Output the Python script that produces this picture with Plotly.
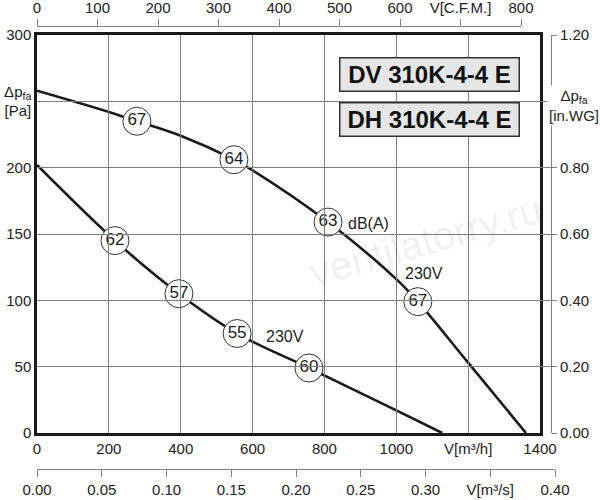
import plotly.graph_objects as go

# fan curves, V [m3/h] vs static pressure [Pa]
upper_q = [0, 200, 278, 400, 548, 600, 810, 1000, 1060, 1200, 1361]
upper_p = [258, 242, 235, 224, 206, 198, 159, 116, 99, 53, 0]

lower_q = [0, 217, 395, 557, 757, 1000, 1128]
lower_p = [202, 145, 105, 75, 49, 17, 0]

# noise level circles dB(A)
mark_q = [278, 548, 810, 1060, 217, 395, 557, 757]
mark_p = [235, 206, 159, 99, 145, 105, 75, 49]
mark_db = ["67", "64", "63", "67", "62", "57", "55", "60"]

# axis ticks
m3h_ticks = [0, 200, 400, 600, 800, 1000, 1200, 1400]
m3h_text = ["0", "200", "400", "600", "800", "1000", "V[m³/h]", "1400"]
pa_ticks = [0, 50, 100, 150, 200, 250, 300]
pa_text = ["0", "50", "100", "150", "200", "Δp<sub>fa</sub><br>[Pa]", "300"]
cfm_ticks = [0, 100, 200, 300, 400, 500, 600, 700, 800]
cfm_text = ["0", "100", "200", "300", "400", "500", "600", "V[C.F.M.]", "800"]
m3s_ticks = [0, 0.05, 0.10, 0.15, 0.20, 0.25, 0.30, 0.35, 0.40]
m3s_text = ["0.00", "0.05", "0.10", "0.15", "0.20", "0.25", "0.30", "V[m³/s]", "0.40"]
inwg_ticks = [0, 0.2, 0.4, 0.6, 0.8, 1.0, 1.2]
inwg_text = ["0.00", "0.20", "0.40", "0.60", "0.80", "", "1.20"]

FONT = "Liberation Sans, Arial, sans-serif"
TXT = "#222222"
GRID = "#808080"


# screen pixels -> paper fractions (no margins, body margin removed below)
def px_x(X):
    return X / 600


def px_y(Y):
    return (500 - Y) / 500


fig = go.Figure()

fig.add_trace(go.Scatter(x=upper_q, y=upper_p, mode="lines",
                         line=dict(color="#1a1a1a", width=2.6, shape="spline", smoothing=1),
                         hoverinfo="skip", showlegend=False))
fig.add_trace(go.Scatter(x=lower_q, y=lower_p, mode="lines",
                         line=dict(color="#1a1a1a", width=2.6, shape="spline", smoothing=1),
                         hoverinfo="skip", showlegend=False))
fig.add_trace(go.Scatter(x=mark_q, y=mark_p, mode="markers+text", text=mark_db,
                         textposition="middle center",
                         textfont=dict(family=FONT, size=17, color=TXT),
                         marker=dict(size=28, color="white", line=dict(color="#333333", width=1)),
                         hoverinfo="skip", showlegend=False))

# empty traces so the extra scales get drawn
fig.add_trace(go.Scatter(x=[None], y=[None], xaxis="x2", yaxis="y", showlegend=False))
fig.add_trace(go.Scatter(x=[None], y=[None], xaxis="x3", yaxis="y", showlegend=False))
fig.add_trace(go.Scatter(x=[None], y=[None], xaxis="x", yaxis="y2", showlegend=False))

tickfont = dict(family=FONT, size=15, color=TXT)
xdom = [px_x(37), px_x(540)]
ydom = [px_y(433), px_y(35)]

fig.update_layout(
    width=600, height=500,
    margin=dict(l=0, r=0, t=0, b=0),
    paper_bgcolor="white", plot_bgcolor="rgba(0,0,0,0)",
    font=dict(family=FONT, color=TXT),
    xaxis=dict(domain=xdom, range=[0, 1400],
               tickvals=m3h_ticks, ticktext=m3h_text, tickfont=tickfont,
               ticks="", showgrid=True, gridcolor=GRID, gridwidth=1, zeroline=False,
               showline=True, mirror=True, linecolor="#1a1a1a", linewidth=2.5,
               automargin=False),
    yaxis=dict(domain=ydom, range=[0, 300],
               tickvals=pa_ticks, ticktext=pa_text, tickfont=tickfont,
               ticks="", showgrid=True, gridcolor=GRID, gridwidth=1, zeroline=False,
               showline=True, mirror=True, linecolor="#1a1a1a", linewidth=2.5,
               automargin=False),
    xaxis2=dict(domain=[px_x(37), px_x(521)], range=[0, 800], anchor="free",
                position=px_y(26), side="top",
                tickvals=cfm_ticks, ticktext=cfm_text, tickfont=tickfont,
                ticks="outside", ticklen=7, tickcolor=GRID, showgrid=False, zeroline=False,
                showline=True, linecolor=GRID, linewidth=1, automargin=False),
    xaxis3=dict(domain=[px_x(37), px_x(555)], range=[0, 0.40], anchor="free",
                position=px_y(469), side="bottom",
                tickvals=m3s_ticks, ticktext=m3s_text, tickfont=tickfont,
                ticks="outside", ticklen=7, tickcolor=GRID, showgrid=False, zeroline=False,
                showline=True, linecolor=GRID, linewidth=1, automargin=False),
    yaxis2=dict(domain=ydom, range=[0, 1.2], anchor="free",
                position=px_x(551), side="right",
                tickvals=inwg_ticks, ticktext=inwg_text, tickfont=tickfont,
                ticks="outside", ticklen=5, tickcolor=GRID, showgrid=False, zeroline=False,
                showline=True, linecolor=GRID, linewidth=1, automargin=False),
)

annotations = [
    # watermark
    dict(x=1080, y=145, xref="x", yref="y", text="ventilatorry.ru", showarrow=False,
         textangle=-16, font=dict(family=FONT, size=40, color="rgba(0,0,0,0.07)")),
    dict(x=860, y=158, xref="x", yref="y", text="dB(A)", showarrow=False,
         xanchor="left", font=dict(family=FONT, size=16, color=TXT)),
    dict(x=1077, y=120, xref="x", yref="y", text="230V", showarrow=False,
         font=dict(family=FONT, size=16, color=TXT)),
    dict(x=689, y=72.5, xref="x", yref="y", text="230V", showarrow=False,
         font=dict(family=FONT, size=16, color=TXT)),
    dict(x=1092, y=270, xref="x", yref="y", text="<b>DV 310K-4-4 E</b>", showarrow=False,
         width=176, height=30, bgcolor="#e6e6e6", bordercolor="#333333", borderwidth=1.5,
         borderpad=1, font=dict(family=FONT, size=24, color="#111111")),
    dict(x=1092, y=236.5, xref="x", yref="y", text="<b>DH 310K-4-4 E</b>", showarrow=False,
         width=176, height=30, bgcolor="#e6e6e6", bordercolor="#333333", borderwidth=1.5,
         borderpad=1, font=dict(family=FONT, size=24, color="#111111")),
    dict(x=px_x(574), y=px_y(106), xref="paper", yref="paper", xanchor="center",
         yanchor="middle", text="Δp<sub>fa</sub><br>[in.WG]", showarrow=False,
         bgcolor="white", font=dict(family=FONT, size=15, color=TXT)),
]
fig.update_layout(annotations=annotations)

fig.write_html("out.html", config={"displayModeBar": False},
               post_script="document.body.style.margin='0';")
